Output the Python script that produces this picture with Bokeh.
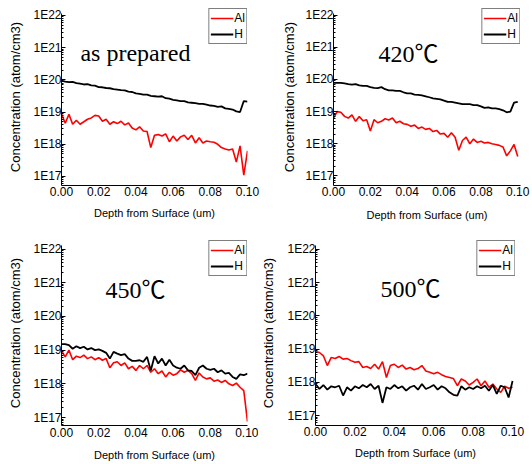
from bokeh.plotting import figure
from bokeh.models import (FixedTicker, CustomJSTickFormatter, Legend, LegendItem,
                          Label, Range1d)
from bokeh.layouts import column, row
from bokeh.embed import file_html
from bokeh.resources import INLINE

# ---------------- data ----------------
depth = [0.000, 0.002, 0.004, 0.006, 0.008, 0.010, 0.012, 0.014, 0.016, 0.018,
         0.020, 0.022, 0.024, 0.026, 0.028, 0.030, 0.032, 0.034, 0.036, 0.038,
         0.040, 0.042, 0.044, 0.046, 0.048, 0.050, 0.052, 0.054, 0.056, 0.058,
         0.060, 0.062, 0.064, 0.066, 0.068, 0.070, 0.072, 0.074, 0.076, 0.078,
         0.080, 0.082, 0.084, 0.086, 0.088, 0.090, 0.092, 0.094, 0.096, 0.098,
         0.100]

al_prepared = [8.9e18, 4.5e18, 8.5e18, 4.2e18, 5.6e18, 4.2e18, 5.0e18, 6.0e18, 6.6e18, 7.9e18,
               7.6e18, 5.2e18, 6.0e18, 4.2e18, 5.0e18, 4.4e18, 5.2e18, 4.0e18, 4.6e18, 3.2e18,
               2.8e18, 3.5e18, 2.6e18, 2.5e18, 7.9e17, 1.9e18, 2.0e18, 1.8e18, 2.1e18, 1.2e18,
               1.8e18, 1.26e18, 1.7e18, 1.9e18, 1.4e18, 1.9e18, 1.1e18, 1.6e18, 1.1e18, 1.26e18,
               1.2e18, 1.15e18, 1.0e18, 7.9e17, 7.1e17, 6.6e17, 7.1e17, 2.8e17, 8.9e17, 1.1e17,
               6.3e17]
h_prepared = [9.5e19, 8.9e19, 8.5e19, 8.7e19, 7.9e19, 7.6e19, 7.2e19, 7.4e19, 6.8e19, 6.6e19,
              6.0e19, 5.9e19, 5.6e19, 5.5e19, 5.2e19, 5.0e19, 4.8e19, 4.7e19, 4.3e19, 4.2e19,
              3.8e19, 3.7e19, 3.5e19, 3.5e19, 3.2e19, 3.1e19, 3.0e19, 3.1e19, 2.7e19, 2.6e19,
              2.4e19, 2.3e19, 2.2e19, 2.2e19, 2.0e19, 1.95e19, 1.9e19, 1.8e19, 1.8e19, 1.7e19,
              1.6e19, 1.55e19, 1.45e19, 1.5e19, 1.3e19, 1.26e19, 1.2e19, 1.05e19, 1.0e19, 2.2e19,
              2.1e19]

al_420 = [6.3e18, 1.0e19, 9.5e18, 7.1e18, 6.3e18, 7.9e18, 5.0e18, 7.1e18, 5.2e18, 5.6e18,
          2.5e18, 5.6e18, 4.5e18, 5.0e18, 6.0e18, 5.5e18, 6.3e18, 4.5e18, 5.0e18, 4.2e18,
          4.0e18, 3.5e18, 3.8e18, 3.0e18, 3.3e18, 2.8e18, 3.0e18, 2.4e18, 2.6e18, 2.0e18,
          2.1e18, 1.6e18, 2.2e18, 1.6e18, 6.3e17, 1.26e18, 1.6e18, 1.0e18, 1.4e18, 1.1e18,
          1.2e18, 1.05e18, 1.1e18, 1.0e18, 9.5e17, 8.9e17, 7.9e17, 4.2e17, 6.0e17, 9.5e17,
          4.0e17]
h_420 = [7.9e19, 7.9e19, 7.8e19, 7.6e19, 7.2e19, 6.9e19, 7.2e19, 6.6e19, 6.3e19, 6.3e19,
         5.8e19, 5.5e19, 5.4e19, 5.8e19, 5.0e19, 4.6e19, 4.6e19, 4.4e19, 4.4e19, 4.0e19,
         3.7e19, 3.7e19, 3.4e19, 3.3e19, 3.2e19, 3.0e19, 2.8e19, 2.6e19, 2.5e19, 2.4e19,
         2.2e19, 2.0e19, 2.0e19, 1.9e19, 1.8e19, 1.7e19, 1.7e19, 1.7e19, 1.6e19, 1.6e19,
         1.45e19, 1.3e19, 1.35e19, 1.26e19, 1.26e19, 1.2e19, 1.1e19, 9.5e18, 1.0e19, 1.9e19,
         2.0e19]

al_450 = [9.5e18, 6.3e18, 1.0e19, 5.2e18, 6.6e18, 6.0e18, 7.1e18, 5.6e18, 6.3e18, 5.2e18,
          6.0e18, 5.0e18, 5.6e18, 3.0e18, 4.2e18, 4.5e18, 3.5e18, 4.2e18, 2.8e18, 3.3e18,
          2.5e18, 3.5e18, 2.8e18, 3.5e18, 2.2e18, 2.8e18, 2.0e18, 2.4e18, 1.6e18, 2.2e18,
          1.8e18, 2.0e18, 2.6e18, 2.2e18, 2.5e18, 2.0e18, 1.26e18, 2.1e18, 1.6e18, 1.4e18,
          1.5e18, 1.2e18, 1.3e18, 1.1e18, 1.26e18, 1.0e18, 8.9e17, 1.05e18, 7.9e17, 6.3e17,
          7.6e16]
h_450 = [1.5e19, 1.5e19, 1.4e19, 1.1e19, 1.3e19, 1.15e19, 1.26e19, 1.05e19, 1.15e19, 1.0e19,
         1.05e19, 9.5e18, 8.3e18, 5.6e18, 8.9e18, 7.9e18, 7.1e18, 7.6e18, 5.6e18, 4.8e18,
         4.8e18, 5.0e18, 4.5e18, 6.3e18, 2.5e18, 6.6e18, 4.0e18, 5.6e18, 3.5e18, 5.2e18,
         3.5e18, 3.0e18, 2.8e18, 3.5e18, 2.5e18, 2.4e18, 1.8e18, 3.0e18, 3.5e18, 2.8e18,
         2.6e18, 2.8e18, 2.2e18, 2.5e18, 2.0e18, 2.1e18, 1.6e18, 1.4e18, 1.9e18, 1.8e18,
         2.0e18]

al_500 = [8.5e18, 7.9e18, 6.3e18, 3.2e18, 5.6e18, 5.2e18, 6.0e18, 5.0e18, 5.2e18, 4.5e18,
          4.0e18, 4.2e18, 2.8e18, 3.0e18, 2.6e18, 3.5e18, 2.5e18, 4.2e18, 1.4e18, 3.2e18,
          3.5e18, 2.8e18, 3.3e18, 2.5e18, 2.8e18, 2.4e18, 2.6e18, 3.2e18, 2.2e18, 2.0e18,
          1.8e18, 2.0e18, 1.7e18, 1.5e18, 1.4e18, 1.3e18, 7.9e17, 1.26e18, 1.1e18, 8.3e17,
          1.0e18, 1.26e18, 7.9e17, 1.1e18, 7.1e17, 8.9e17, 6.3e17, 5.0e17, 7.6e17, 6.6e17,
          7.1e17]
h_500 = [8.9e17, 6.3e17, 8.3e17, 6.0e17, 7.6e17, 7.1e17, 7.9e17, 4.0e17, 7.1e17, 5.6e17,
         7.6e17, 6.6e17, 8.3e17, 7.1e17, 8.9e17, 6.3e17, 7.9e17, 2.4e17, 7.1e17, 6.3e17,
         8.3e17, 6.6e17, 7.6e17, 5.6e17, 7.1e17, 7.9e17, 6.0e17, 8.9e17, 6.3e17, 7.1e17,
         8.3e17, 6.0e17, 7.6e17, 6.6e17, 5.0e17, 4.2e17, 4.0e17, 7.6e17, 6.0e17, 7.1e17,
         6.3e17, 7.6e17, 6.6e17, 7.9e17, 5.6e17, 8.3e17, 4.5e17, 7.9e17, 7.1e17, 3.5e17,
         1.1e18]

panel_titles = ["as prepared", "420\u2103", "450\u2103", "500\u2103"]
series_names = ["Al", "H"]
y_tick_values = [1e17, 1e18, 1e19, 1e20, 1e21, 1e22]
y_tick_labels = ["1E17", "1E18", "1E19", "1E20", "1E21", "1E22"]
x_tick_values = [0.00, 0.02, 0.04, 0.06, 0.08, 0.10]
x_tick_labels = ["0.00", "0.02", "0.04", "0.06", "0.08", "0.10"]
x_title = "Depth from Surface (um)"
y_title = "Concentration (atom/cm3)"

for s in (al_prepared, h_prepared, al_420, h_420, al_450, h_450, al_500, h_500):
    assert len(s) == len(depth)

# ---------------- layout / style ----------------
SANS = "Liberation Sans"
SERIF = "Liberation Serif, Noto Sans CJK SC"

panels = [
    dict(al=al_prepared, h=h_prepared, title=panel_titles[0],
         w=266, h_=240, bl=61, br=19, bt=8, bb=55, xmax=0.1,
         ymin=16.72, ymax=22.217, ybound=22.06, yas=7, xls=1, xas=8, tx=0.0102, ty=20.82),
    dict(al=al_420, h=h_420, title=panel_titles[1],
         w=266, h_=240, bl=67, br=12, bt=8, bb=48, xmax=0.1015,
         ymin=16.70, ymax=22.21, ybound=22.06, yas=5, xls=1, xas=10, tx=0.0244, ty=20.80),
    dict(al=al_450, h=h_450, title=panel_titles[2],
         w=258, h_=224, bl=61, br=11, bt=0, bb=39, xmax=0.1,
         ymin=16.763, ymax=22.253, ybound=22.10, yas=7, xls=2, xas=9, tx=0.0237, ty=20.77),
    dict(al=al_500, h=h_500, title=panel_titles[3],
         w=274, h_=224, bl=54, br=17, bt=0, bb=37, xmax=0.1015,
         ymin=16.70, ymax=22.27, ybound=22.12, yas=8, xls=1, xas=8, tx=0.033, ty=20.81),
]

minor = [m * 10.0 ** e for e in range(16, 23) for m in range(2, 10)]

ylab_fmt = CustomJSTickFormatter(args=dict(vals=y_tick_values, labs=y_tick_labels), code="""
    for (let i = 0; i < vals.length; i++) {
        if (Math.abs(Math.log10(vals[i]) - Math.log10(tick)) < 1e-6) return labs[i];
    }
    return "";
""")
xlab_fmt = CustomJSTickFormatter(args=dict(vals=x_tick_values, labs=x_tick_labels), code="""
    for (let i = 0; i < vals.length; i++) {
        if (Math.abs(vals[i] - tick) < 1e-9) return labs[i];
    }
    return "";
""")


def build(c):
    p = figure(width=c["w"], height=c["h_"], output_backend="svg", toolbar_location=None,
               y_axis_type="log",
               x_range=Range1d(0, c["xmax"]),
               y_range=Range1d(10 ** c["ymin"], 10 ** c["ymax"]),
               min_border_left=c["bl"], min_border_right=c["br"],
               min_border_top=c["bt"], min_border_bottom=c["bb"])
    p.outline_line_color = None
    p.grid.visible = False
    p.background_fill_color = "white"
    p.border_fill_color = "white"

    r_al = p.line(depth, c["al"], line_color="#ff0000", line_width=1.6)
    r_h = p.line(depth, c["h"], line_color="black", line_width=1.8)

    xa = p.xaxis[0]
    xa.ticker = FixedTicker(ticks=x_tick_values)
    xa.formatter = xlab_fmt
    xa.axis_label = x_title
    xa.axis_label_text_font = SANS
    xa.axis_label_text_font_size = "11px"
    xa.axis_label_text_font_style = "normal"
    xa.axis_label_text_color = "black"
    xa.major_label_text_font = SANS
    xa.major_label_text_font_size = "12px"
    xa.major_label_text_color = "black"
    xa.major_tick_in = 0
    xa.major_tick_out = 0
    xa.minor_tick_in = 0
    xa.minor_tick_out = 0
    xa.major_label_standoff = c["xls"]
    xa.axis_label_standoff = c["xas"]
    xa.axis_line_color = "black"

    ya = p.yaxis[0]
    ya.ticker = FixedTicker(ticks=y_tick_values, minor_ticks=minor)
    ya.formatter = ylab_fmt
    ya.bounds = (10 ** c["ymin"], 10 ** c["ybound"])
    ya.axis_label = y_title
    ya.axis_label_text_font = SANS
    ya.axis_label_text_font_size = "13px"
    ya.axis_label_text_font_style = "normal"
    ya.axis_label_text_color = "black"
    ya.major_label_text_font = SANS
    ya.major_label_text_font_size = "12px"
    ya.major_label_text_color = "black"
    ya.major_tick_in = 4
    ya.major_tick_out = 0
    ya.minor_tick_in = 2
    ya.minor_tick_out = 0
    ya.major_tick_line_color = "black"
    ya.minor_tick_line_color = "black"
    ya.major_label_standoff = 0
    ya.axis_label_standoff = c["yas"]
    ya.axis_line_color = "black"

    leg = Legend(items=[LegendItem(label=series_names[0], renderers=[r_al]),
                        LegendItem(label=series_names[1], renderers=[r_h])],
                 location="top_right", margin=0, padding=1, spacing=0,
                 glyph_width=23, glyph_height=16, label_height=16, label_width=0,
                 label_standoff=1,
                 label_text_font=SANS, label_text_font_size="12px", label_text_color="black",
                 border_line_color="black", border_line_width=1,
                 background_fill_color="white", background_fill_alpha=1.0)
    p.add_layout(leg)

    p.add_layout(Label(x=c["tx"], y=10 ** c["ty"], text=c["title"],
                       text_font=SERIF, text_font_size="24px", text_color="black",
                       text_align="left", text_baseline="middle"))
    return p


figs = [build(c) for c in panels]
layout = column(row(figs[0], figs[1]), row(figs[2], figs[3]))

open("out.html", "w").write(file_html(layout, INLINE))
